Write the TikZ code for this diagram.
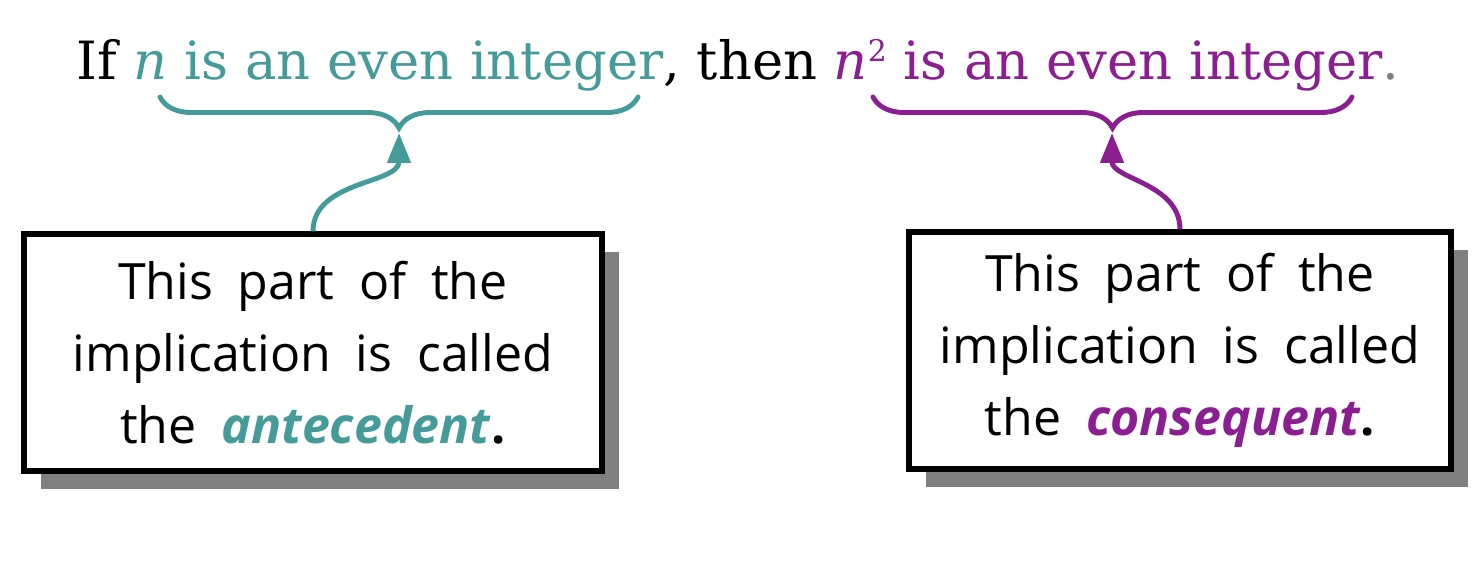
\documentclass[tikz,border=0pt]{standalone}
\usepackage{fontspec}
\setmainfont{DejaVu Serif}
\newfontfamily\handfont{Open Sans}[WordSpace=1.9]
\usepackage{tikz}
\usetikzlibrary{arrows.meta,positioning,calc,shadows,decorations.pathreplacing}
\definecolor{antec}{HTML}{459A9A}
\definecolor{conseq}{HTML}{8B1E91}
\definecolor{shadowgray}{HTML}{808080}
\newcommand{\sqmark}{{\fontsize{17}{17}\selectfont\raisebox{0.62em}{2}}}
\tikzset{
  note/.style    = {draw=black,line width=3pt,fill=white,align=center,
                    font=\handfont\fontsize{28.5}{41}\selectfont,
                    minimum height=4.74cm,
                    drop shadow={shadow xshift=0.34cm,shadow yshift=-0.36cm,
                                 fill=shadowgray,opacity=1}},
  ubrace/.style  = {decorate,decoration={brace,amplitude=0.62cm},
                    line width=2.8pt,line cap=round},
  pointer/.style = {-{Triangle[length=17pt,width=13pt]},line width=2.8pt},
}

\begin{document}
\begin{tikzpicture}[x=0.02cm,y=-0.02cm]
  \useasboundingbox (0,0) rectangle (1476,570);
  \node[anchor=base,font=\fontsize{30}{36}\selectfont] (stmt) at (738,80)
    {If \textcolor{antec}{\textit{n} is an even integer}, then
     \textcolor{conseq}{\textit{n}\sqmark{} is an even integer}\textcolor{shadowgray}{.}};
  \draw[ubrace,antec] (638,97) -- (160,97);
  \draw[ubrace,conseq] (1352,97) -- (873,97);
  \coordinate (antip) at (399,133);
  \coordinate (contip) at (1112,133);
  \node[note,minimum width=11.56cm] (antbox) at (313,352.5)
    {This part of the\\implication is called\\the \textcolor{antec}{\textbf{\textit{antecedent}}}\textbf{.}};
  \node[note,minimum width=10.84cm] (conbox) at (1180,350.5)
    {This part of the\\implication is called\\the \textcolor{conseq}{\textbf{\textit{consequent}}}\textbf{.}};
  \draw[pointer,antec] (antbox.north) to[out=90,in=-90] (antip);
  \draw[pointer,conseq] (conbox.north) to[out=90,in=-90] (contip);
\end{tikzpicture}
\end{document}
